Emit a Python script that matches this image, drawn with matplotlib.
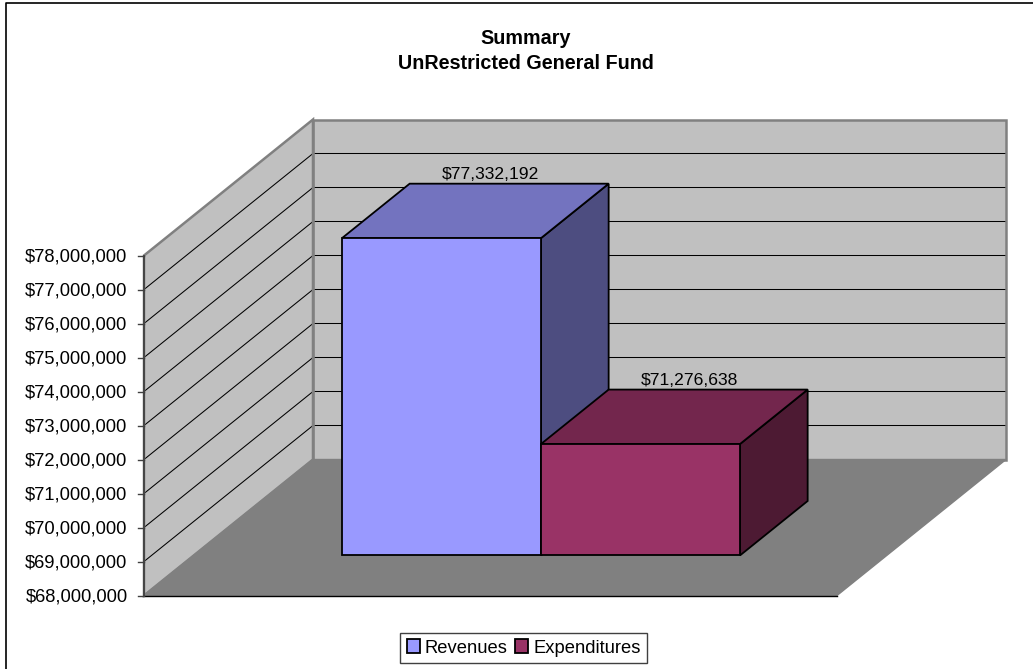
import matplotlib
matplotlib.use('Agg')
import matplotlib.pyplot as plt
from matplotlib.patches import Polygon, Patch

plt.rcParams['font.family'] = ['Liberation Sans', 'DejaVu Sans']

title_lines = ['Summary', 'UnRestricted General Fund']
categories = ['Revenues', 'Expenditures']
values = [77332192, 71276638]
value_labels = ['$77,332,192', '$71,276,638']
colors_front = ['#9999FF', '#993366']
colors_top = ['#7373BF', '#73264D']
colors_side = ['#4D4D80', '#4D1A33']
tick_values = list(range(68000000, 79000000, 1000000))

AXIS_MIN = 68000000
PX_PER_VALUE = 34 / 1e6
X0, Y0 = 144, 595.5     # front bottom corner of the left wall
DEPTH_X, DEPTH_Y = 169, 136
FLOOR_W = 693
BAR_X0 = 292.2
BAR_W = 199
BAR_D0, BAR_D1 = 0.295, 0.695
LABEL_DX = 81


def pt(x, v, d=0.0):
    # x in px along the front edge, v in dollars, d = depth 0..1
    return (x + d * DEPTH_X, Y0 - (v - AXIS_MIN) * PX_PER_VALUE - d * DEPTH_Y)


def face(ax, pts, color, edge='black', lw=1.3, z=2):
    ax.add_patch(Polygon(pts, closed=True, facecolor=color, edgecolor=edge,
                         linewidth=lw, joinstyle='miter', zorder=z))


fig = plt.figure(figsize=(10.33, 6.69), dpi=100)
ax = fig.add_axes([0, 0, 1, 1])
ax.set_xlim(0, 1033)
ax.set_ylim(669, 0)
ax.axis('off')

# chart frame, runs off the right and bottom of the image
ax.plot([5.5, 5.5, 1033], [669, 2.5, 2.5], color='black', lw=1.2, zorder=1)

vmax = tick_values[-1]
x1 = X0 + FLOOR_W

# walls and floor
left_wall = [pt(X0, AXIS_MIN), pt(X0, AXIS_MIN, 1), pt(X0, vmax, 1), pt(X0, vmax)]
back_wall = [pt(X0, AXIS_MIN, 1), pt(x1, AXIS_MIN, 1), pt(x1, vmax, 1), pt(X0, vmax, 1)]
floor = [pt(X0, AXIS_MIN), pt(x1, AXIS_MIN), pt(x1, AXIS_MIN, 1), pt(X0, AXIS_MIN, 1)]
face(ax, left_wall, '#C0C0C0', edge='none', z=1)
face(ax, back_wall, '#C0C0C0', edge='none', z=1)

# gridlines on both walls
for v in tick_values[1:-1]:
    xs, ys = zip(pt(X0, v), pt(X0, v, 1), pt(x1, v, 1))
    ax.plot(xs, ys, color='black', lw=0.75, zorder=1.2)

# wall outlines sit on top of the gridlines
for wall in (left_wall, back_wall):
    ax.add_patch(Polygon(wall, closed=True, fill=False, edgecolor='#808080', linewidth=1.8, zorder=1.3))
face(ax, floor, '#808080', edge='#808080', lw=1, z=1.4)

# floor front edge and left axis
xs, ys = zip(pt(X0, AXIS_MIN), pt(x1, AXIS_MIN))
ax.plot(xs, ys, color='black', lw=1.0, zorder=1.5)
xs, ys = zip(pt(X0, AXIS_MIN), pt(X0, vmax))
ax.plot(xs, ys, color='#404040', lw=1.3, zorder=1.6)

# ticks and their labels
for v in tick_values:
    x, y = pt(X0, v)
    ax.plot([x - 6, x], [y, y], color='#404040', lw=1.0, zorder=1.6)
    ax.text(x - 16.5, y + 1.5, '${:,}'.format(v), ha='right', va='center', fontsize=13.2, color='black')

# bars, left one first: the right bar hides the lower part of its side face
for i in [0, 1]:
    xa = BAR_X0 + i * BAR_W
    xb = xa + BAR_W
    v = values[i]
    face(ax, [pt(xb, AXIS_MIN, BAR_D0), pt(xb, AXIS_MIN, BAR_D1), pt(xb, v, BAR_D1), pt(xb, v, BAR_D0)], colors_side[i], z=2 + i)
    face(ax, [pt(xa, v, BAR_D0), pt(xb, v, BAR_D0), pt(xb, v, BAR_D1), pt(xa, v, BAR_D1)], colors_top[i], z=2 + i)
    face(ax, [pt(xa, AXIS_MIN, BAR_D0), pt(xb, AXIS_MIN, BAR_D0), pt(xb, v, BAR_D0), pt(xa, v, BAR_D0)], colors_front[i], z=2 + i)
    lx, ly = pt(xa, v, BAR_D1)
    ax.text(lx + LABEL_DX, ly - 1.5, value_labels[i], ha='center', va='bottom', fontsize=12.6, color='black', zorder=5)

ax.text(526, 38.5, title_lines[0], ha='center', va='center', fontsize=14.2, fontweight='bold')
ax.text(526, 63.5, title_lines[1], ha='center', va='center', fontsize=14.2, fontweight='bold')

handles = [Patch(facecolor=c, edgecolor='black', linewidth=1.3) for c in colors_front]
leg = ax.legend(handles, categories, loc='center', bbox_to_anchor=(523.5 / 1033, 1 - 648 / 669),
                ncol=2, fontsize=13.2, fancybox=False, framealpha=1, edgecolor='#404040',
                handlelength=0.75, handleheight=0.75, handletextpad=0.25, columnspacing=0.38,
                borderpad=0.35, borderaxespad=0)
leg.get_frame().set_linewidth(1.0)

fig.savefig('out.png', dpi=100)
